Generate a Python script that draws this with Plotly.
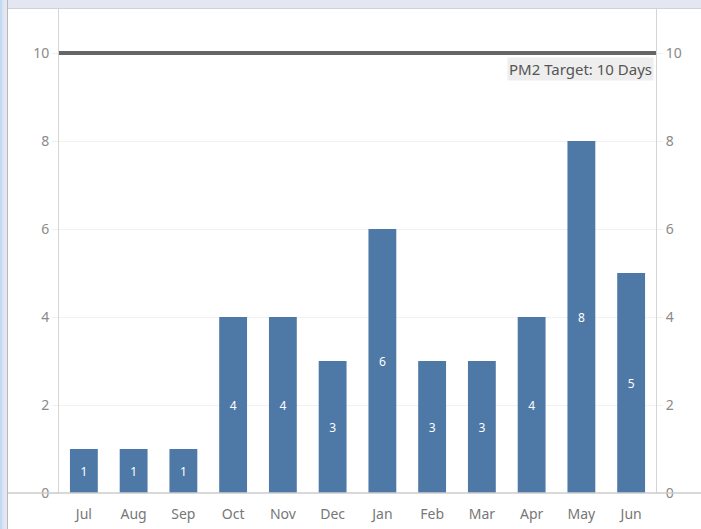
import plotly.graph_objects as go

MONTHS = ["Jul", "Aug", "Sep", "Oct", "Nov", "Dec", "Jan", "Feb", "Mar", "Apr", "May", "Jun"]
DAYS = [1, 1, 1, 4, 4, 3, 6, 3, 3, 4, 8, 5]
TARGET = 10
TARGET_LABEL = "PM2 Target: 10 Days"
Y_TICKS = [0, 2, 4, 6, 8, 10]

W, H = 701, 529
L, R, T, B = 59, 45, 9, 36
PW, PH = W - L - R, H - T - B

FONT = "Noto Sans, Open Sans, sans-serif"
TICK_GREY = "#8a8a8a"

fig = go.Figure()
fig.add_trace(go.Bar(
    x=MONTHS, y=DAYS,
    text=DAYS, textposition="inside", insidetextanchor="middle",
    textfont=dict(color="white", size=12, family=FONT),
    marker=dict(color="#4e79a7", line=dict(width=0)),
    width=0.56,
    hoverinfo="x+y",
))
# invisible trace to drive the mirrored right axis
fig.add_trace(go.Scatter(x=MONTHS, y=DAYS, yaxis="y2", mode="markers",
                         marker=dict(opacity=0), hoverinfo="skip", showlegend=False))


def px_x(p):
    return (p - L) / PW


def px_y(p):
    return 1 - (p - T) / PH


def frame_rect(x0, x1, y0, y1, color):
    return dict(type="rect", xref="paper", yref="paper", layer="above",
                x0=px_x(x0), x1=px_x(x1), y0=px_y(y1), y1=px_y(y0),
                fillcolor=color, line=dict(width=0))


axis_common = dict(
    range=[0, 11], tickvals=Y_TICKS, fixedrange=True, automargin=False,
    tickfont=dict(color=TICK_GREY, size=14, family=FONT),
    zeroline=False,
)

fig.update_layout(
    width=W, height=H,
    margin=dict(l=L, r=R, t=T, b=B, autoexpand=False),
    paper_bgcolor="white", plot_bgcolor="white",
    showlegend=False,
    font=dict(family=FONT),
    xaxis=dict(
        tickfont=dict(color="#777777", size=14, family=FONT),
        showgrid=False, showline=False, ticks="", ticklabelstandoff=11,
        range=[-0.5, 11.5], fixedrange=True, automargin=False,
    ),
    yaxis=dict(
        **axis_common, showgrid=True, gridcolor="#f1f1f1", gridwidth=1,
        showline=True, linecolor="#d4d4d4", linewidth=1,
        ticks="outside", ticklen=6, tickcolor="#f0f0f0",
    ),
    yaxis2=dict(
        **axis_common, overlaying="y", side="right", showgrid=False,
        showline=True, linecolor="#d4d4d4", linewidth=1,
        ticks="outside", ticklen=6, tickcolor="#f0f0f0",
    ),
    shapes=[
        # window frame: top strip and left strip
        frame_rect(0, W, 0, 8, "#e4e7f2"),
        frame_rect(0, W, 8, 9, "#cdd2dc"),
        frame_rect(0, 2, 0, H, "#c4daf1"),
        frame_rect(2, 4, 0, H, "#d6e4f5"),
        frame_rect(4, 7, 0, H, "#e4e7f0"),
        frame_rect(7, 8, 0, H, "#b4b8c0"),
        # bottom axis line across the pane
        dict(type="line", xref="paper", yref="paper", layer="above",
             x0=px_x(8), x1=px_x(W), y0=0, y1=0,
             line=dict(color="#cccccc", width=1.5)),
        # target reference line
        dict(type="line", xref="paper", yref="y", layer="above",
             x0=0, x1=1, y0=TARGET, y1=TARGET,
             line=dict(color="#666666", width=4)),
    ],
    annotations=[
        dict(xref="paper", yref="y", x=1, y=TARGET, xanchor="right", yanchor="top",
             yshift=-4, xshift=-2, text=TARGET_LABEL, showarrow=False,
             bgcolor="#eeeeee", borderpad=1,
             font=dict(color="#555555", size=15, family=FONT)),
    ],
)

# the page body has an 8px default margin; drop it so the chart fills the window
fig.write_html("out.html", config={"displayModeBar": False},
               post_script="document.body.style.margin='0';")
